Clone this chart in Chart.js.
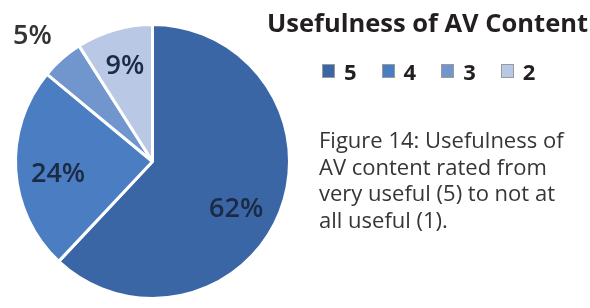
<!DOCTYPE html>
<html>
<head>
<meta charset="utf-8">
<script src="https://cdn.jsdelivr.net/npm/chart.js@4/dist/chart.umd.min.js"></script>
<style>
  html, body { margin: 0; padding: 0; background: #fff; }
  #wrap { position: relative; width: 590px; height: 308px; overflow: hidden; font-family: "Open Sans", sans-serif; }
  #chart { position: absolute; left: 0; top: 0; }
  #title { position: absolute; left: 267px; top: 7px; font-size: 25.5px; line-height: 30px; font-weight: 700; color: #231f20; white-space: nowrap; }
  #legend { position: absolute; left: 322px; top: 58px; display: flex; font-size: 22px; line-height: 26px; font-weight: 700; color: #231f20; }
  #legend .item { display: flex; align-items: center; margin-right: 25px; }
  #legend .box { width: 11px; height: 12px; border: 1px solid #9a9a9a; margin-right: 9px; }
  #caption { position: absolute; left: 319px; top: 126px; font-size: 22px; line-height: 26.5px; color: #363636; white-space: nowrap; }
</style>
</head>
<body>
<div id="wrap">
  <canvas id="chart" width="590" height="308"></canvas>
  <div id="title">Usefulness of AV Content</div>
  <div id="legend"></div>
  <div id="caption">Figure 14: Usefulness of<br>AV content rated from<br>very useful (5) to not at<br>all useful (1).</div>
</div>
<script>
const ratings = ["5", "4", "3", "2"];
const shares = [62, 24, 5, 9];
const sliceColors = ["#3b66a6", "#4a7dc1", "#7195cd", "#b9c8e4"];

// percentage labels, small slices go outside the pie
const sliceLabels = {
  id: "sliceLabels",
  afterDatasetsDraw(chart, args, opts) {
    const ctx = chart.ctx;
    const arcs = chart.getDatasetMeta(0).data;
    ctx.save();
    ctx.font = "600 27px 'Open Sans', sans-serif";
    ctx.textAlign = "center";
    ctx.textBaseline = "middle";
    arcs.forEach((arc, i) => {
      const p = arc.getProps(["x", "y", "startAngle", "endAngle", "outerRadius"], true);
      const mid = (p.startAngle + p.endAngle) / 2;
      const small = shares[i] < 7;
      const dist = p.outerRadius * (small ? 1.27 : 0.72);
      const nudge = opts.nudge[i] || [0, 0];
      ctx.fillStyle = small ? "#333333" : "#1c2a46";
      ctx.fillText(shares[i] + "%", p.x + Math.cos(mid) * dist + nudge[0], p.y + Math.sin(mid) * dist + nudge[1]);
    });
    ctx.restore();
  }
};

const chart = new Chart(document.getElementById("chart"), {
  type: "pie",
  data: {
    labels: ratings,
    datasets: [{
      data: shares,
      backgroundColor: sliceColors,
      borderColor: "#ffffff",
      borderWidth: 3
    }]
  },
  options: {
    responsive: false,
    animation: false,
    layout: { padding: { left: 14, right: 299, top: 23, bottom: 8 } },
    plugins: {
      legend: { display: false },
      tooltip: { enabled: false },
      title: { display: false },
      sliceLabels: { nudge: [[-8, 12], [4, 7], [-5, 5], [0, 0]] }
    }
  },
  plugins: [sliceLabels]
});

// html legend from the chart's own data
const legendBox = document.getElementById("legend");
chart.data.labels.forEach((lab, i) => {
  const item = document.createElement("div");
  item.className = "item";
  const box = document.createElement("span");
  box.className = "box";
  box.style.background = sliceColors[i];
  const txt = document.createElement("span");
  txt.textContent = lab;
  item.appendChild(box);
  item.appendChild(txt);
  legendBox.appendChild(item);
});
</script>
</body>
</html>
